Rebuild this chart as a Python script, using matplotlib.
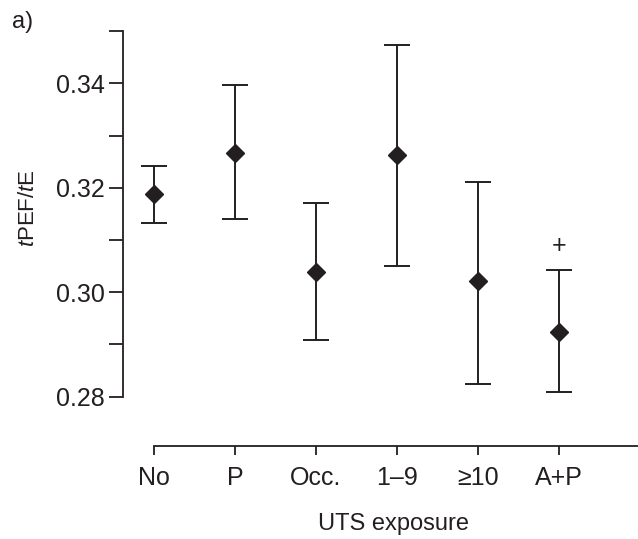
import numpy as np
import matplotlib
matplotlib.use("Agg")
import matplotlib.pyplot as plt
from matplotlib.ticker import FixedLocator

# Daten
groups = ['No', 'P', 'Occ.', '1–9', '≥10', 'A+P']
means = [0.3188, 0.3266, 0.3039, 0.3263, 0.3022, 0.2923]
upper = [0.3242, 0.3397, 0.3170, 0.3474, 0.3212, 0.3043]
lower = [0.3132, 0.3140, 0.2909, 0.3051, 0.2824, 0.2808]
major_ticks = [0.28, 0.30, 0.32, 0.34]
minor_ticks = [0.29, 0.31, 0.33, 0.35]

ink = '#231f20'
plt.rcParams['font.family'] = ['Liberation Sans', 'DejaVu Sans']
plt.rcParams['mathtext.fontset'] = 'custom'
plt.rcParams['mathtext.rm'] = 'Liberation Sans'
plt.rcParams['mathtext.it'] = 'Liberation Sans:italic'

fig = plt.figure(figsize=(6.38, 5.39), dpi=100)
ax = fig.add_axes([123 / 638, 1 - 445.7 / 539, 515 / 638, (445.7 - 27) / 539])

x = np.arange(len(groups))
means = np.array(means)
err = [means - np.array(lower), np.array(upper) - means]
ax.errorbar(x, means, yerr=err, fmt='D', color=ink, ms=9, lw=1.4,
            capsize=9.4, capthick=1.4)
# Signifikanzzeichen über A+P
ax.text(x[-1], upper[-1] + 0.0045, '+', ha='center', va='center',
        fontsize=18, color=ink)

ax.set_xlim(-0.383, 5.975)
ax.set_ylim(0.2706, 0.3508)

ax.spines['top'].set_visible(False)
ax.spines['right'].set_visible(False)
for s in ['left', 'bottom']:
    ax.spines[s].set_color(ink)
    ax.spines[s].set_linewidth(1.3)
ax.spines['left'].set_bounds(0.28, 0.35)
ax.spines['bottom'].set_bounds(0, 5.975)

ax.yaxis.set_major_locator(FixedLocator(major_ticks))
ax.yaxis.set_minor_locator(FixedLocator(minor_ticks))
ax.set_yticklabels([f'{v:.2f}' for v in major_ticks])
ax.set_xticks(x)
ax.set_xticklabels(groups)
ax.tick_params(axis='y', which='both', length=10, width=1.3, color=ink,
               labelsize=18, labelcolor=ink, pad=3)
ax.tick_params(axis='x', length=6.7, width=1.3, color=ink,
               labelsize=18, labelcolor=ink, pad=8)

ax.set_xlabel('UTS exposure', fontsize=17, color=ink, labelpad=20)
ax.xaxis.set_label_coords(0.525, -0.16)
ax.set_ylabel(r'$\it{t}$PEF/$\it{t}$E', fontsize=16, color=ink)
ax.yaxis.set_label_coords(-0.163, 0.568)

fig.text(12 / 638, 1 - 22 / 539, 'a)', fontsize=17, color=ink,
         ha='left', va='center')

fig.savefig('out.png', dpi=100)
